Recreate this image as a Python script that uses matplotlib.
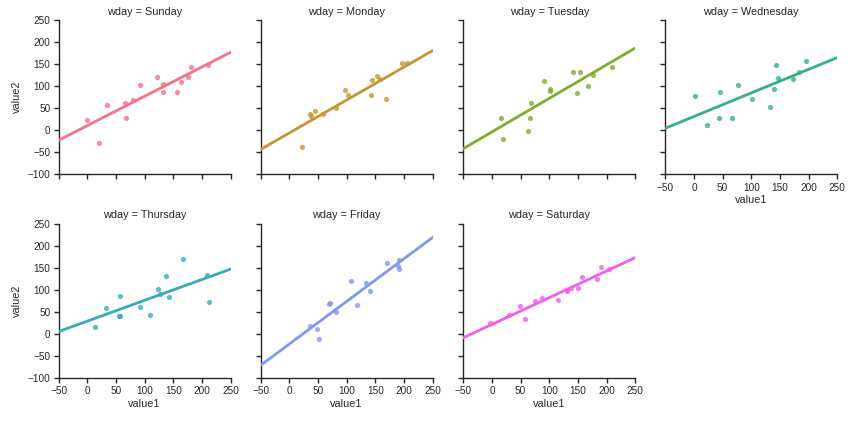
import numpy as np
import matplotlib
matplotlib.use("Agg")
import matplotlib.pyplot as plt
import seaborn as sns

days = ["Sunday", "Monday", "Tuesday", "Wednesday", "Thursday", "Friday", "Saturday"]

sun_x = [-1.5, 19.5, 33.5, 65, 66.8, 79, 91, 122, 131.5, 131.5, 156, 163, 175, 180.6, 210]
sun_y = [24.5, -28, 56.4, 63, 27, 70, 104, 122, 106, 86, 88, 109, 122, 145, 147.5]
mon_x = [22, 36, 37.7, 45, 59, 81.7, 97.4, 102.6, 142.7, 144.4, 152.6, 157.8, 168.8, 196.7, 205.4]
mon_y = [-38.5, 38, 32, 45, 38, 50, 91, 81, 81, 114, 122.5, 115.6, 72, 152, 152]
tue_x = [15.8, 19.9, 63.6, 67, 68.8, 91.5, 102, 102, 142, 152.7, 149, 166.7, 175.4, 208.6]
tue_y = [29, -18.8, -0.6, 29, 63, 111, 93, 89, 132, 132, 84, 100, 125, 145]
wed_x = [2, 23, 43.2, 45.5, 66.4, 76.8, 101, 132.4, 138.8, 142.8, 146.3, 172.3, 182.8, 195]
wed_y = [79, 13, 27, 86, 27, 104, 72, 52, 95, 147.5, 120, 115.6, 131.5, 156.6]
thu_x = [12.5, 31.7, 54.5, 56.2, 56.2, 91.3, 108.8, 122.8, 126.3, 136.8, 142, 166.6, 208.6, 212]
thu_y = [15.4, 58.4, 40.3, 40, 85.6, 60.7, 42.6, 101.4, 90, 130.8, 83.3, 169.3, 133, 72]
fri_x = [36.5, 48.7, 52, 69.6, 71.3, 81.7, 107.9, 118.3, 134, 141, 170.6, 189.7, 191.5, 191.5]
fri_y = [17.7, 11, -11.7, 67.4, 69.7, 49.3, 119.4, 65.1, 115, 97, 160.2, 153.4, 167, 146.6]
sat_x = [-2.8, 30.4, 49.6, 58.3, 75.8, 88, 116, 130, 131.6, 138.6, 150.8, 157.8, 184, 191, 203.3]
sat_y = [24.5, 42.6, 63, 33.6, 74.3, 81, 76.5, 97, 99, 104, 104, 129, 124.3, 151.4, 147]

xs = [sun_x, mon_x, tue_x, wed_x, thu_x, fri_x, sat_x]
ys = [sun_y, mon_y, tue_y, wed_y, thu_y, fri_y, sat_y]

x_ticks = [-50, 0, 50, 100, 150, 200, 250]
y_ticks = [-100, -50, 0, 50, 100, 150, 200, 250]

colors = sns.husl_palette(7)

plt.rcParams['font.family'] = ['Liberation Sans', 'DejaVu Sans']
txt = '0.15'

fig = plt.figure(figsize=(8.53, 4.22), dpi=100)
W, H = 853, 422
cols_l = [58.7, 260.7, 463.3, 665.3]
aw = 172
rows_t = [20.3, 223.7]
ah = 154

for i, day in enumerate(days):
    r, c = divmod(i, 4)
    left = cols_l[c] / W
    bottom = 1 - (rows_t[r] + ah) / H
    ax = fig.add_axes([left, bottom, aw / W, ah / H])
    x = np.array(xs[i]); y = np.array(ys[i])
    ax.scatter(x, y, s=14, color=colors[i], alpha=0.8, linewidths=0, zorder=2)
    b, a = np.polyfit(x, y, 1)
    gx = np.array([x_ticks[0], x_ticks[-1]])
    ax.plot(gx, a + b * gx, color=colors[i], lw=2, zorder=3)
    ax.set_xlim(x_ticks[0], x_ticks[-1])
    ax.set_ylim(y_ticks[0], y_ticks[-1])
    ax.set_xticks(x_ticks)
    ax.set_yticks(y_ticks)
    for s in ['top', 'right']:
        ax.spines[s].set_visible(False)
    for s in ['left', 'bottom']:
        ax.spines[s].set_color(txt)
        ax.spines[s].set_linewidth(1.0)
    ax.tick_params(direction='out', length=3.5, width=1, color=txt,
                   labelsize=7.2, labelcolor=txt, pad=2.5)
    ax.set_title(f"wday = {day}", fontsize=7.8, color=txt, pad=4)
    if c == 0:
        ax.set_ylabel("value2", fontsize=7.8, color=txt, labelpad=4)
    else:
        ax.tick_params(labelleft=False)
    if r == 1 or i == 3:
        ax.set_xlabel("value1", fontsize=7.8, color=txt, labelpad=2)
    else:
        ax.tick_params(labelbottom=False)

fig.savefig("out.png", dpi=100)
